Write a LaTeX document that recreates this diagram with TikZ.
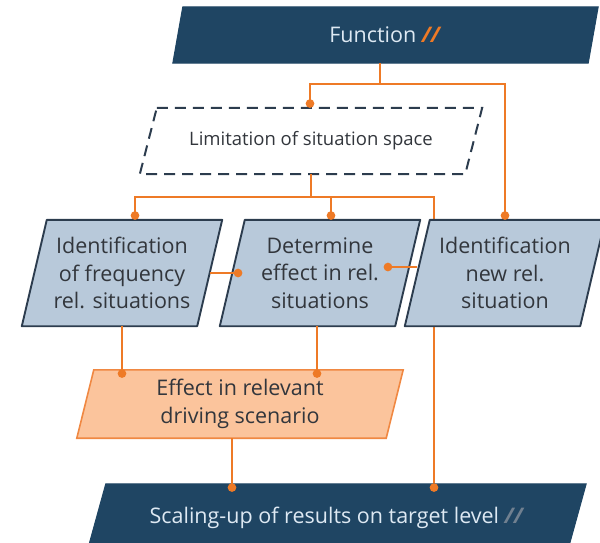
\documentclass[tikz,border=0pt]{standalone}
\usepackage{fontspec}
\setmainfont{Open Sans}
\usetikzlibrary{calc,arrows.meta}

\pgfdeclarelayer{under}
\pgfdeclarelayer{boxes}
\pgfsetlayers{under,boxes,main}

\definecolor{navy}{RGB}{31,69,99}
\definecolor{steel}{RGB}{184,201,218}
\definecolor{slate}{RGB}{44,60,78}
\definecolor{orng}{RGB}{238,122,38}
\definecolor{peach}{RGB}{251,196,156}
\definecolor{peachline}{RGB}{240,136,66}
\definecolor{txtgray}{RGB}{50,54,60}
\definecolor{pale}{RGB}{222,233,243}
\definecolor{dimslash}{RGB}{112,128,144}

% parallelogram outline around a named rectangular node
% #1 node name, #2 horizontal shift of the top edge against the bottom edge, #3 path style
\newcommand\slantbox[3]{%
  \begin{pgfonlayer}{boxes}
    \path[#3] ([xshift=#2*0.5pt]#1.north west) -- ([xshift=#2*0.5pt]#1.north east)
      -- ([xshift=-#2*0.5pt]#1.south east) -- ([xshift=-#2*0.5pt]#1.south west) -- cycle;
  \end{pgfonlayer}}

\tikzset{
  holder/.style={rectangle, inner sep=0pt, align=center},
  bigtext/.style={font=\fontsize{21.5}{27.5}\selectfont},
  link/.style={draw=orng, line width=2.3pt},
  arr/.style={link, -{Circle[length=8.5pt]}},
  darkbox/.style={fill=navy, draw=navy, line width=1pt},
  stepbox/.style={fill=steel, draw=slate, line width=1.9pt, line join=round},
  resultbox/.style={fill=peach, draw=peachline, line width=1.6pt},
  limitbox/.style={fill=white, draw=slate, line width=2pt, dash pattern=on 11pt off 7pt},
}

\begin{document}
\begin{tikzpicture}[x=1pt,y=-1pt]
\useasboundingbox (0,0) rectangle (600,542);

% nodes
\node[holder, bigtext, text=pale, minimum width=415pt, minimum height=56pt] (F) at (385.5,35)
  {Function \textcolor{orng}{\textbf{\textit{//}}}};
\node[holder, font=\fontsize{18.5}{20}\selectfont, text=txtgray, minimum width=325pt, minimum height=66pt] (D) at (311,141)
  {Limitation of situation space};
\node[holder, bigtext, text=txtgray, minimum width=175pt, minimum height=106pt] (A) at (122,273)
  {Identification\\of frequency\\rel. situations};
\node[holder, bigtext, text=txtgray, minimum width=175pt, minimum height=106pt] (B) at (320,273)
  {Determine\\effect in rel.\\situations};
\node[holder, bigtext, text=txtgray, minimum width=175pt, minimum height=106pt] (C) at (505,273)
  {Identification\\new rel.\\situation};
\node[holder, bigtext, text=txtgray, minimum width=309pt, minimum height=68pt] (O) at (240,404)
  {Effect in relevant\\driving scenario};
\node[holder, minimum width=480pt, minimum height=72pt] (S) at (336,520) {};
\node[bigtext, text=pale, inner sep=0pt] (St) at (337,518)
  {Scaling-up of results on target level \textcolor{dimslash}{\textbf{\textit{//}}}};

% box outlines
\slantbox{F}{10}{darkbox}
\slantbox{D}{17}{limitbox}
\slantbox{A}{25}{stepbox}
\slantbox{B}{25}{stepbox}
\slantbox{C}{25}{stepbox}
\slantbox{O}{17}{resultbox}
\slantbox{S}{20}{darkbox}

% junction points
\coordinate (j1) at (380,84);
\coordinate (j2) at (311,197);

% connectors
\draw[link] (F.south -| j1) -- (j1);
\draw[arr] (j1) -| ([xshift=-1pt]D.north);
\draw[arr] (j1) -| (C.north);

\draw[link] (D.south) -- (j2);
\draw[arr] (j2) -| ([xshift=13pt]A.north);
\draw[arr] (j2) -| ([xshift=11pt]B.north);
\begin{pgfonlayer}{under}
  \draw[link] (j2) -| ([xshift=98pt]S.north);
\end{pgfonlayer}
\draw[arr] ([xshift=98pt]S.north) -- ([xshift=98pt,yshift=-8pt]S.north);

\draw[arr] (A.south) -- ($(A.south |- O.north)+(0,8)$);
\draw[arr] ([xshift=-3pt]B.south) -- ($([xshift=-3pt]B.south |- O.north)+(0,8)$);
\draw[arr] ([xshift=-8pt]O.south) -- ($([xshift=-8pt]O.south |- S.north)+(0,8)$);

\draw[arr] (A.east) -- ([xshift=10pt]B.west);
\draw[arr] ([yshift=6pt]C.west) -- ([xshift=-24pt,yshift=6pt]B.east);
\end{tikzpicture}
\end{document}
